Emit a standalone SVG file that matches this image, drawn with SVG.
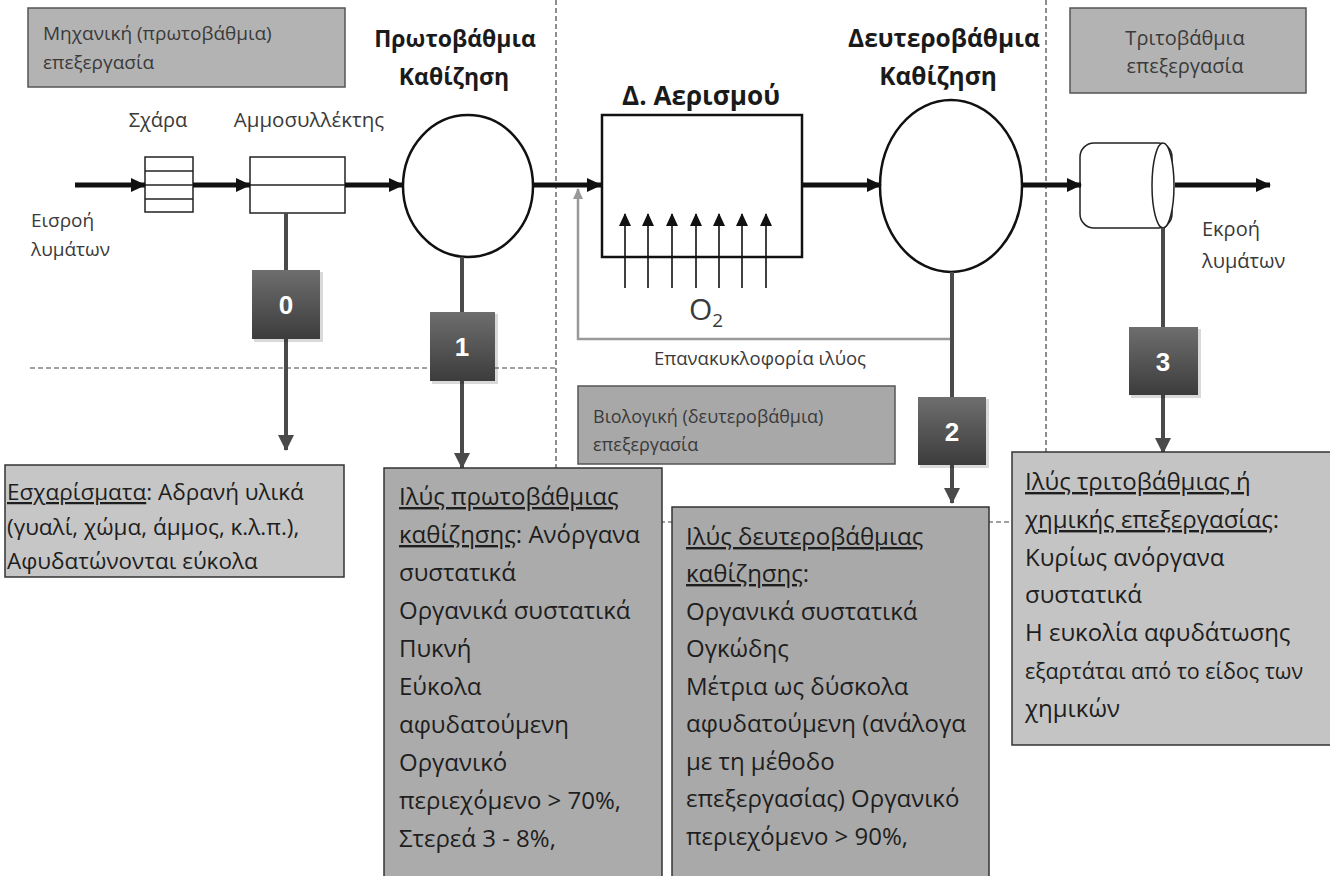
<svg xmlns="http://www.w3.org/2000/svg" width="1330" height="876" viewBox="0 0 1330 876">
<style>
.lbl{font-family:"Open Sans","Liberation Sans",sans-serif;fill:#3a3a3a}
.big{font-family:"Open Sans","Liberation Sans",sans-serif;font-weight:bold;fill:#1a1a1a;font-size:23px;text-anchor:middle}
.box{font-family:"Open Sans","Liberation Sans",sans-serif;font-size:24px;fill:#1e1e1e}
.box0{font-family:"Open Sans","Liberation Sans",sans-serif;font-size:22.5px;fill:#1e1e1e}
.u{text-decoration:underline}
.num{font-family:"Liberation Sans",sans-serif;font-weight:bold;font-size:26px;fill:#fff;text-anchor:middle}
.flow{stroke:#111;stroke-width:5;fill:none}
.drop{stroke:#4a4a4a;stroke-width:4;fill:none}
.dash{stroke:#444;stroke-width:1.2;stroke-dasharray:5 3;fill:none}
.thin{stroke:#111;stroke-width:1.6;fill:none}
.shape{fill:#fff;stroke:#111;stroke-width:2.5}
</style>
<defs>
<marker id="ah" markerUnits="userSpaceOnUse" markerWidth="16" markerHeight="16" refX="14" refY="8" orient="auto"><path d="M0,1 L15,8 L0,15 z" fill="#111"/></marker>
<marker id="ad" markerUnits="userSpaceOnUse" markerWidth="18" markerHeight="18" refX="15" refY="9" orient="auto"><path d="M0,1 L16,9 L0,17 z" fill="#4a4a4a"/></marker>
<marker id="au" markerUnits="userSpaceOnUse" markerWidth="14" markerHeight="14" refX="12" refY="6.5" orient="auto"><path d="M0,0.5 L13,6.5 L0,12.5 z" fill="#111"/></marker>
<marker id="ag" markerUnits="userSpaceOnUse" markerWidth="12" markerHeight="12" refX="10" refY="6" orient="auto"><path d="M0,1 L11,6 L0,11 z" fill="#999"/></marker>
<linearGradient id="bg" x1="0" y1="0" x2="0" y2="1"><stop offset="0" stop-color="#6e6e6e"/><stop offset="1" stop-color="#3c3c3c"/></linearGradient>
</defs>
<rect width="1330" height="876" fill="#fff"/>

<g id="dividers">
<line class="dash" x1="556" y1="0" x2="556" y2="468"/>
<line class="dash" x1="1046" y1="0" x2="1046" y2="452"/>
<line class="dash" x1="30" y1="368" x2="556" y2="368"/>
<line class="dash" x1="660" y1="522" x2="1020" y2="522"/>
</g>

<g id="label-mech">
<rect x="28" y="8" width="317" height="79" fill="#b3b3b3" stroke="#555" stroke-width="1.5"/>
<text class="lbl" x="43" y="40" font-size="19">Μηχανική (πρωτοβάθμια)</text>
<text class="lbl" x="43" y="69" font-size="19">επεξεργασία</text>
</g>

<g id="label-tert">
<rect x="1070" y="8" width="236" height="85" fill="#b3b3b3" stroke="#555" stroke-width="1.5"/>
<text class="lbl" x="1185" y="45" font-size="20" text-anchor="middle">Τριτοβάθμια</text>
<text class="lbl" x="1185" y="73" font-size="20" text-anchor="middle">επεξεργασία</text>
</g>

<g id="label-bio">
<rect x="578" y="386" width="317" height="78" fill="#a8a8a8" stroke="#555" stroke-width="1.5"/>
<text class="lbl" x="593" y="423" font-size="18">Βιολογική (δευτεροβάθμια)</text>
<text class="lbl" x="593" y="451" font-size="18">επεξεργασία</text>
</g>

<g id="inflow-label">
<text class="lbl" x="31" y="227" font-size="19">Εισροή</text>
<text class="lbl" x="31" y="256" font-size="19">λυμάτων</text>
</g>
<g id="outflow-label">
<text class="lbl" x="1202" y="236" font-size="20">Εκροή</text>
<text class="lbl" x="1202" y="268" font-size="20">λυμάτων</text>
</g>

<g id="screen">
<text class="lbl" x="158" y="127" font-size="20" text-anchor="middle">Σχάρα</text>
<rect x="145" y="157" width="48" height="55" fill="#fff" stroke="#222" stroke-width="1.5"/>
<line x1="145" y1="171" x2="193" y2="171" stroke="#222" stroke-width="1.5"/>
<line x1="145" y1="185" x2="193" y2="185" stroke="#222" stroke-width="1.5"/>
<line x1="145" y1="199" x2="193" y2="199" stroke="#222" stroke-width="1.5"/>
</g>

<g id="grit">
<text class="lbl" x="309" y="127" font-size="20.5" text-anchor="middle">Αμμοσυλλέκτης</text>
<rect x="250" y="157" width="95" height="56" fill="#fff" stroke="#222" stroke-width="1.5"/>
<line x1="250" y1="185" x2="345" y2="185" stroke="#222" stroke-width="1.5"/>
</g>

<g id="primary">
<text class="big" x="455" y="47">Πρωτοβάθμια</text>
<text class="big" x="454" y="85">Καθίζηση</text>
<ellipse class="shape" cx="468" cy="186" rx="65" ry="71"/>
</g>

<g id="aeration">
<text class="big" x="701" y="105" style="font-size:26px" textLength="158" lengthAdjust="spacingAndGlyphs">Δ. Αερισμού</text>
<rect class="shape" x="602" y="115" width="200" height="142"/>
<text class="lbl" x="689" y="320" font-size="30" fill="#222">O<tspan font-size="19" dy="7">2</tspan></text>
</g>

<g id="secondary">
<text class="big" x="944" y="47" style="font-size:24.5px">Δευτεροβάθμια</text>
<text class="big" x="938" y="85" style="font-size:24.5px">Καθίζηση</text>
<ellipse class="shape" cx="951" cy="186" rx="71" ry="86"/>
</g>

<g id="tertiary">
<rect x="1080" y="143" width="92" height="85" rx="14" fill="#fff" stroke="#222" stroke-width="1.5"/>
<ellipse cx="1163" cy="185.5" rx="11" ry="42.5" fill="#fff" stroke="#222" stroke-width="1.5"/>
</g>

<g id="connectors">
<line class="flow" x1="75" y1="185" x2="145" y2="185" marker-end="url(#ah)"/>
<line class="flow" x1="193" y1="185" x2="250" y2="185" marker-end="url(#ah)"/>
<line class="flow" x1="345" y1="185" x2="403" y2="185" marker-end="url(#ah)"/>
<line class="flow" x1="533" y1="185" x2="601" y2="185" marker-end="url(#ah)"/>
<line class="flow" x1="802" y1="185" x2="881" y2="185" marker-end="url(#ah)"/>
<line class="flow" x1="1022" y1="185" x2="1081" y2="185" marker-end="url(#ah)"/>
<line class="flow" x1="1175" y1="185" x2="1270" y2="185" marker-end="url(#ah)"/>
<g class="thin">
<line x1="625" y1="288" x2="625" y2="214" marker-end="url(#au)"/>
<line x1="648" y1="288" x2="648" y2="214" marker-end="url(#au)"/>
<line x1="672" y1="288" x2="672" y2="214" marker-end="url(#au)"/>
<line x1="696" y1="288" x2="696" y2="214" marker-end="url(#au)"/>
<line x1="719" y1="288" x2="719" y2="214" marker-end="url(#au)"/>
<line x1="742" y1="288" x2="742" y2="214" marker-end="url(#au)"/>
<line x1="766" y1="288" x2="766" y2="214" marker-end="url(#au)"/>
</g>
<polyline points="952,339 578,339 578,189" fill="none" stroke="#999" stroke-width="2.5" marker-end="url(#ag)"/>
<text class="lbl" x="760" y="365" font-size="18.5" text-anchor="middle">Επανακυκλοφορία ιλύος</text>
<line class="drop" x1="286" y1="213" x2="286" y2="450" marker-end="url(#ad)"/>
<line class="drop" x1="462" y1="257" x2="462" y2="468" marker-end="url(#ad)"/>
<line class="drop" x1="952" y1="272" x2="952" y2="503" marker-end="url(#ad)"/>
<line class="drop" x1="1163" y1="228" x2="1163" y2="453" marker-end="url(#ad)"/>
</g>

<g id="badge-0">
<rect x="254" y="272" width="69" height="70" fill="#000" opacity="0.15"/>
<rect x="252" y="270" width="68" height="69" fill="url(#bg)"/>
<text class="num" x="286" y="314">0</text>
</g>
<g id="badge-1">
<rect x="432" y="314" width="66" height="70" fill="#000" opacity="0.15"/>
<rect x="430" y="312" width="65" height="69" fill="url(#bg)"/>
<text class="num" x="462" y="356">1</text>
</g>
<g id="badge-2">
<rect x="920" y="399" width="69" height="69" fill="#000" opacity="0.15"/>
<rect x="918" y="397" width="68" height="68" fill="url(#bg)"/>
<text class="num" x="952" y="441">2</text>
</g>
<g id="badge-3">
<rect x="1131" y="329" width="70" height="69" fill="#000" opacity="0.15"/>
<rect x="1129" y="327" width="69" height="68" fill="url(#bg)"/>
<text class="num" x="1163" y="371">3</text>
</g>

<g id="box-screenings">
<rect x="5" y="465" width="339" height="112" fill="#c6c6c6" stroke="#333" stroke-width="1.5"/>
<text class="box0" x="7" y="500"><tspan class="u">Εσχαρίσματα</tspan>: Αδρανή υλικά</text>
<text class="box0" x="7" y="535">(γυαλί, χώμα, άμμος, κ.λ.π.),</text>
<text class="box0" x="7" y="569">Αφυδατώνονται εύκολα</text>
</g>

<g id="box-primary-sludge">
<rect x="384" y="468" width="278" height="420" fill="#ababab" stroke="#333" stroke-width="1.5"/>
<text class="box" x="399" y="505"><tspan class="u">Ιλύς πρωτοβάθμιας</tspan></text>
<text class="box" x="399" y="543"><tspan class="u">καθίζησης</tspan>: Ανόργανα</text>
<text class="box" x="399" y="581">συστατικά</text>
<text class="box" x="399" y="619">Οργανικά συστατικά</text>
<text class="box" x="399" y="657">Πυκνή</text>
<text class="box" x="399" y="695">Εύκολα</text>
<text class="box" x="399" y="733">αφυδατούμενη</text>
<text class="box" x="399" y="771">Οργανικό</text>
<text class="box" x="399" y="809">περιεχόμενο &gt; 70%,</text>
<text class="box" x="399" y="847">Στερεά 3 - 8%,</text>
</g>

<g id="box-secondary-sludge">
<rect x="672" y="507" width="317" height="380" fill="#a9a9a9" stroke="#333" stroke-width="1.5"/>
<text class="box" x="686" y="545"><tspan class="u">Ιλύς δευτεροβάθμιας</tspan></text>
<text class="box" x="686" y="582"><tspan class="u">καθίζησης</tspan>:</text>
<text class="box" x="686" y="620">Οργανικά συστατικά</text>
<text class="box" x="686" y="657">Ογκώδης</text>
<text class="box" x="686" y="695">Μέτρια ως δύσκολα</text>
<text class="box" x="686" y="732">αφυδατούμενη (ανάλογα</text>
<text class="box" x="686" y="770">με τη μέθοδο</text>
<text class="box" x="686" y="807">επεξεργασίας) Οργανικό</text>
<text class="box" x="686" y="845">περιεχόμενο &gt; 90%,</text>
</g>

<g id="box-tertiary-sludge">
<rect x="1012" y="452" width="330" height="293" fill="#c4c4c4" stroke="#333" stroke-width="1.5"/>
<text class="box" x="1025" y="490"><tspan class="u">Ιλύς τριτοβάθμιας ή</tspan></text>
<text class="box" x="1025" y="528"><tspan class="u">χημικής επεξεργασίας</tspan>:</text>
<text class="box" x="1025" y="566">Κυρίως ανόργανα</text>
<text class="box" x="1025" y="603">συστατικά</text>
<text class="box" x="1025" y="641">Η ευκολία αφυδάτωσης</text>
<text class="box" x="1025" y="679" style="font-size:21.5px">εξαρτάται από το είδος των</text>
<text class="box" x="1025" y="717">χημικών</text>
</g>
</svg>
